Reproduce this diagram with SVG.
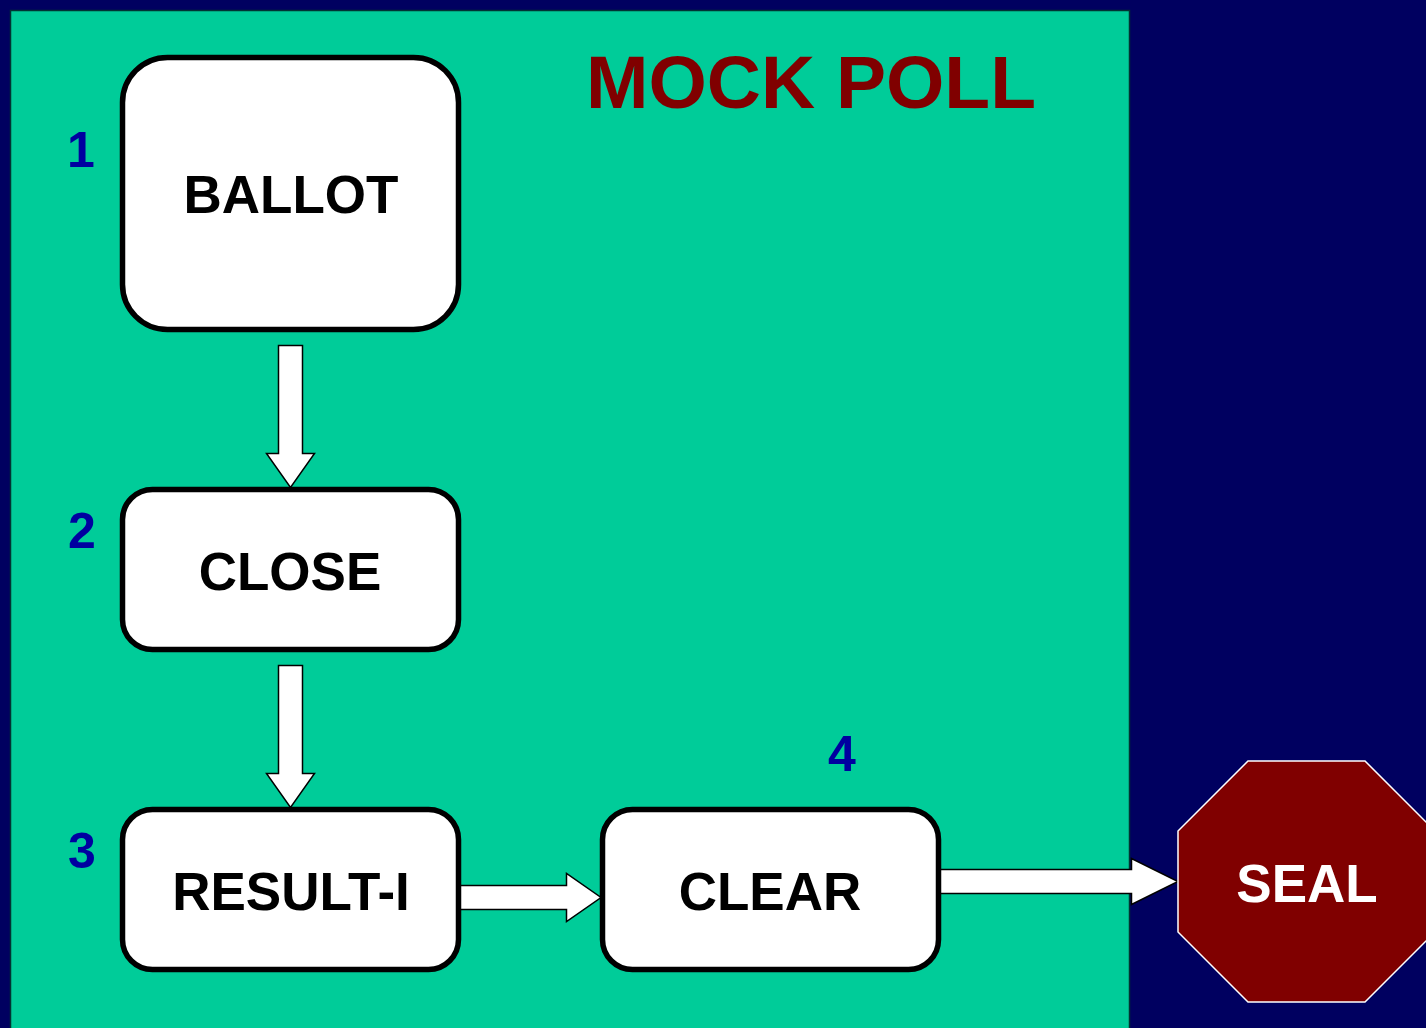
<svg xmlns="http://www.w3.org/2000/svg" width="1426" height="1028" viewBox="0 0 1426 1028">
<style>
.box{fill:#fff;stroke:#000;stroke-width:5.5}
.lbl{font-family:"Liberation Sans",Arial,sans-serif;font-weight:bold;font-size:53px;fill:#000;text-anchor:middle}
.num{font-family:"Liberation Sans",Arial,sans-serif;font-weight:bold;font-size:50px;fill:#0000A0;text-anchor:middle}
.arr{fill:#fff;stroke:#000;stroke-width:1.5;stroke-linejoin:miter}
</style>
<rect x="0" y="0" width="1426" height="1028" fill="#000060"/>
<rect id="panel" x="10.5" y="10.5" width="1119" height="1030" fill="#00CC99" stroke="#003333" stroke-width="1.5"/>
<text id="title" x="811" y="108" font-family="'Liberation Sans',Arial,sans-serif" font-weight="bold" font-size="75" fill="#800000" text-anchor="middle">MOCK POLL</text>
<g id="connectors">
<path class="arr" d="M278.5,345.5 H302.5 V453.5 H314.5 L290.5,487.5 L266.5,453.5 H278.5 Z"/>
<path class="arr" d="M278.5,665.5 H302.5 V773.5 H314.5 L290.5,807.5 L266.5,773.5 H278.5 Z"/>
<path class="arr" d="M460,885.5 H566.5 V873.5 L601,897.5 L566.5,921.5 V909.5 H460 Z"/>
<path class="arr" d="M940,869.5 H1131.5 V858.5 L1178,881.5 L1131.5,904.5 V893.5 H940 Z"/>
</g>
<g id="node-ballot">
<rect class="box" x="122.5" y="57.5" width="336" height="272" rx="45"/>
<text class="lbl" x="291" y="213">BALLOT</text>
<text class="num" x="81" y="167">1</text>
</g>
<g id="node-close">
<rect class="box" x="122.5" y="489.5" width="336" height="160" rx="30"/>
<text class="lbl" x="290" y="590">CLOSE</text>
<text class="num" x="82" y="548">2</text>
</g>
<g id="node-result">
<rect class="box" x="122.5" y="809.5" width="336" height="160" rx="30"/>
<text class="lbl" x="291" y="910">RESULT-I</text>
<text class="num" x="82" y="868">3</text>
</g>
<g id="node-clear">
<rect class="box" x="602.5" y="809.5" width="336" height="160" rx="30"/>
<text class="lbl" x="770" y="910">CLEAR</text>
<text class="num" x="842" y="771">4</text>
</g>
<g id="node-seal">
<polygon points="1248,761 1365,761 1435,831 1435,932 1365,1002 1248,1002 1178,932 1178,831" fill="#800000" stroke="#ffffff" stroke-width="1.5"/>
<text class="lbl" x="1307" y="902" style="fill:#fff">SEAL</text>
</g>
</svg>
